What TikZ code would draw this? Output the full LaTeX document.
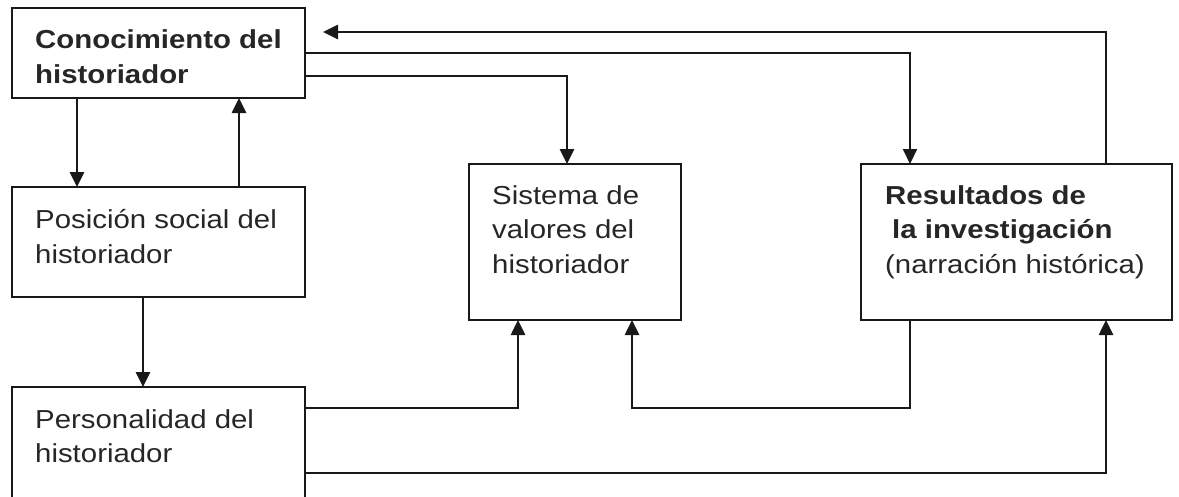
\documentclass[tikz,border=0pt]{standalone}
\usepackage{fontspec}
\setmainfont[FakeStretch=1.13]{Liberation Sans}
\usetikzlibrary{arrows.meta}
\begin{document}
\begin{tikzpicture}[x=1pt,y=-1pt,
  box/.style={draw=black!90, line width=2.2pt, rectangle, anchor=north west, inner sep=0pt, outer sep=0pt},
  txt/.style={anchor=north west, inner sep=0pt, align=left, text=black!85, font=\fontsize{26}{34.5}\selectfont},
  conn/.style={draw=black!90, line width=2.6pt, -{Triangle[length=15pt,width=14pt]}},
  thinline/.style={line width=1.9pt}]
\useasboundingbox (0,0) rectangle (1179,496);
% boxes
\node[box, minimum width=293pt, minimum height=90pt]  (A) at (12,8) {};
\node[box, minimum width=293pt, minimum height=110pt] (B) at (12,187) {};
\node[box, minimum width=293pt, minimum height=140pt] (C) at (12,387) {};
\node[box, minimum width=212pt, minimum height=156pt] (D) at (469,164) {};
\node[box, minimum width=311pt, minimum height=156pt] (E) at (861,164) {};
% texts
\node[txt, font=\fontsize{26}{34.5}\selectfont\bfseries] (At) at (35,24.2) {\strut Conocimiento del\\historiador};
\node[txt] (Bt) at (35,204.2) {\strut Posición social del\\historiador};
\node[txt] (Ct) at (35,404) {\strut Personalidad del\\historiador};
\node[txt] (Dt) at (492,179.8) {\strut Sistema de\\valores del\\historiador};
\node[txt] (Et) at (885,179.8) {\strut\textbf{Resultados de}\\\hspace*{7pt}\textbf{la investigación}\\(narración histórica)};
% bend coordinates
\coordinate (v1) at (77,0);
\coordinate (v2) at (239,0);
\coordinate (v3) at (143,0);
\coordinate (k1) at (567,76);
\coordinate (k2) at (910,53);
\coordinate (k3) at (1106,32);
\coordinate (k3e) at (323,32);
\coordinate (k4) at (518,408);
\coordinate (k5) at (910,408);
\coordinate (k6) at (632,408);
\coordinate (k7) at (1106,473);
% connectors
\draw[conn] (A.south -| v1) -- (B.north -| v1);
\draw[conn] (B.north -| v2) -- (A.south -| v2);
\draw[conn] (B.south -| v3) -- (C.north -| v3);
\draw[conn] (A.east |- k1) -- (k1) -- (D.north -| k1);
\draw[conn, thinline] (A.east |- k2) -- (k2) -- (E.north -| k2);
\draw[conn] (E.north -| k3) -- (k3) -- (k3e);
\draw[conn] (C.east |- k4) -- (k4) -- (D.south -| k4);
\draw[conn] (E.south -| k5) -- (k5) -- (k6) -- (D.south -| k6);
\draw[conn] (C.east |- k7) -- (k7) -- (E.south -| k7);
\end{tikzpicture}
\end{document}
